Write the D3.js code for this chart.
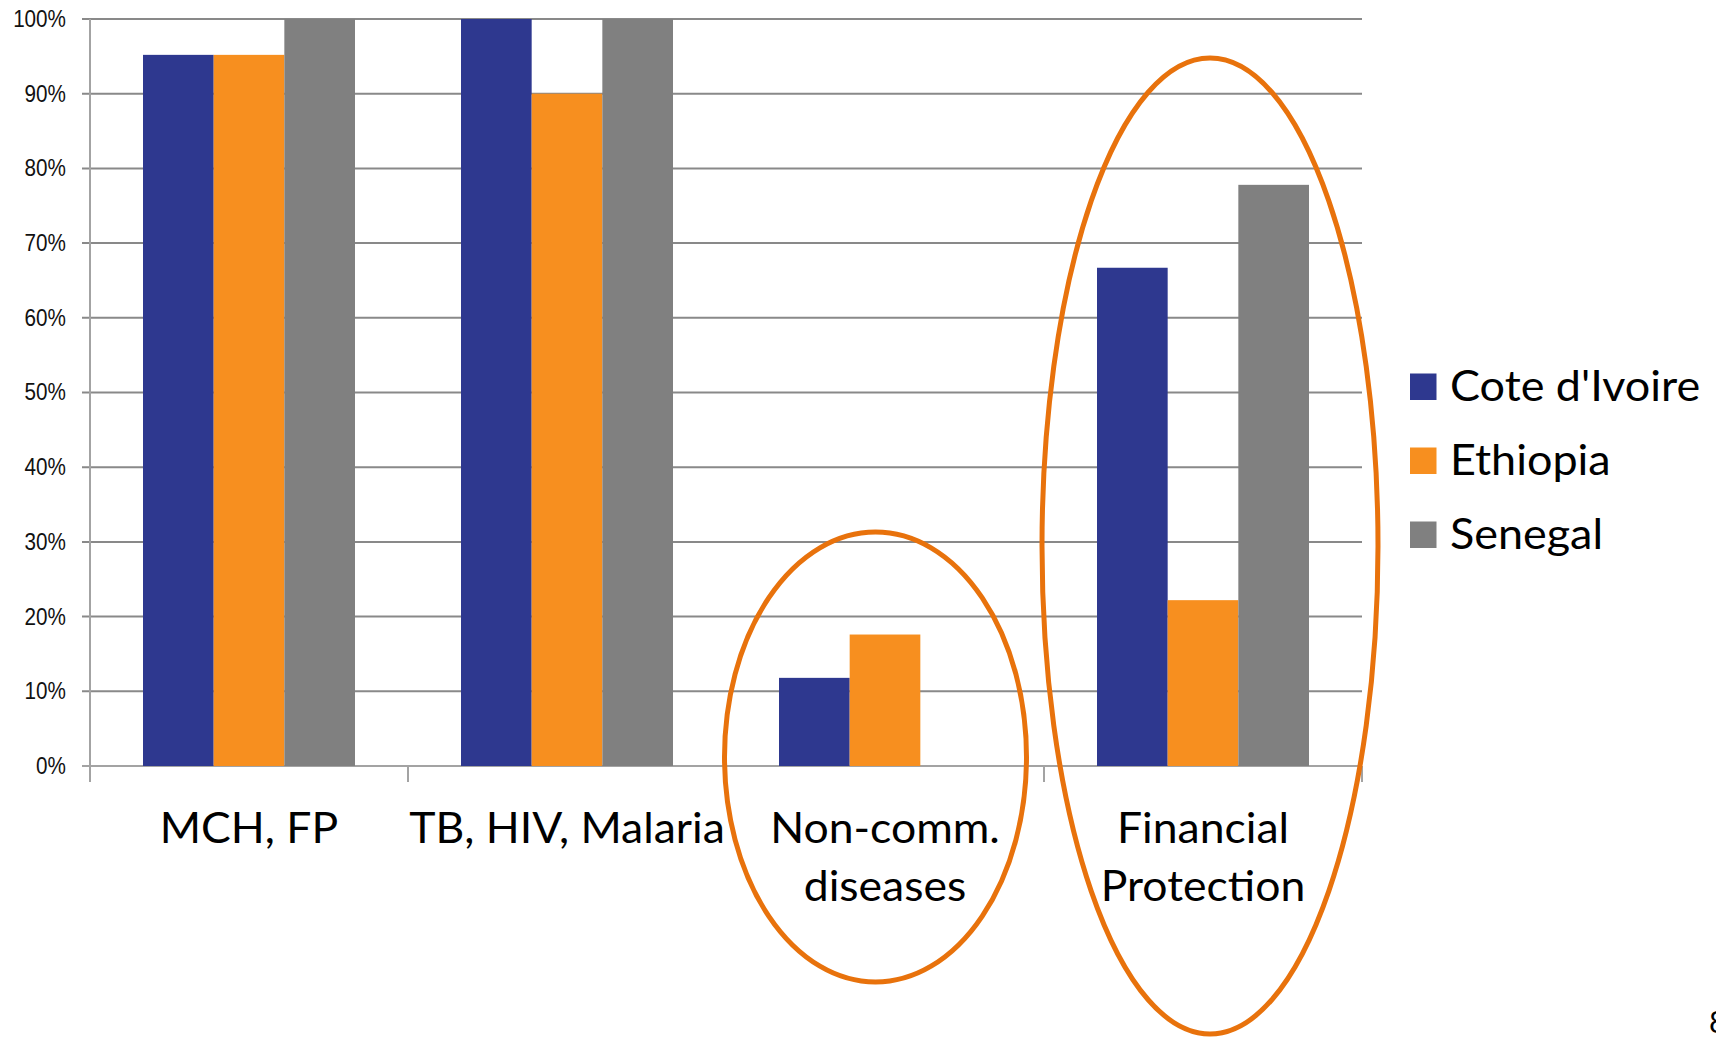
<!DOCTYPE html>
<html>
<head>
<meta charset="utf-8">
<script src="https://cdn.jsdelivr.net/npm/d3@7"></script>
<style>
  html, body { margin: 0; padding: 0; background: #ffffff; }
  svg { display: block; }
</style>
</head>
<body>
<svg id="chart" width="1716" height="1037"></svg>
<script>
// Share of indicators covered, by country and health area (percent)
const categories = [["MCH, FP"], ["TB, HIV, Malaria"], ["Non-comm.", "diseases"], ["Financial", "Protection"]];
const categoryKeys = ["MCH, FP", "TB, HIV, Malaria", "Non-comm. diseases", "Financial Protection"];
const seriesNames = ["Cote d'Ivoire", "Ethiopia", "Senegal"];
const coteDIvoire = [95.2, 100, 11.8, 66.7];
const ethiopia = [95.2, 90, 17.6, 22.2];
const senegal = [100, 100, null, 77.8];
const yTicks = [0, 10, 20, 30, 40, 50, 60, 70, 80, 90, 100];
const highlighted = ["Non-comm. diseases", "Financial Protection"];
const pageNumber = "8";

const seriesValues = [coteDIvoire, ethiopia, senegal];
const colors = ["#2e388f", "#f78f1f", "#808080"];

const svg = d3.select("#chart");
const plotLeft = 90, plotRight = 1362, plotTop = 19, plotBottom = 766;
const labelFont = "Lato, 'Open Sans', sans-serif";

const x0 = d3.scaleBand().domain(categoryKeys).range([plotLeft, plotRight]).paddingInner(0).paddingOuter(0);
const bw = x0.bandwidth();
const x1 = d3.scaleBand().domain(seriesNames).range([bw / 6, bw * 5 / 6]).padding(0);
const y = d3.scaleLinear().domain([0, 100]).range([plotBottom, plotTop]);
const color = d3.scaleOrdinal().domain(seriesNames).range(colors);

// horizontal gridlines
svg.append("g")
  .selectAll("line")
  .data(yTicks)
  .join("line")
  .attr("x1", plotLeft - 8)
  .attr("x2", plotRight)
  .attr("y1", d => y(d))
  .attr("y2", d => y(d))
  .attr("stroke", d => d === 0 ? "#a3a3a3" : "#898989")
  .attr("stroke-width", 2);

// y tick labels
svg.append("g")
  .selectAll("g")
  .data(yTicks)
  .join("g")
  .attr("transform", d => `translate(66,${y(d)}) scale(0.88,1)`)
  .append("text")
  .attr("text-anchor", "end")
  .attr("dominant-baseline", "central")
  .attr("font-family", "Liberation Sans, Arial, sans-serif")
  .attr("font-size", 23.5)
  .attr("fill", "#111")
  .text(d => d + "%");

// bars
const rows = categoryKeys.map((c, i) => ({
  key: c,
  values: seriesNames.map((s, j) => ({ series: s, value: seriesValues[j][i] }))
}));

const groups = svg.append("g")
  .selectAll("g")
  .data(rows)
  .join("g")
  .attr("transform", d => `translate(${x0(d.key)},0)`);

groups.selectAll("rect")
  .data(d => d.values.filter(v => v.value != null))
  .join("rect")
  .attr("x", d => x1(d.series))
  .attr("width", x1.bandwidth())
  .attr("y", d => y(d.value))
  .attr("height", d => y(0) - y(d.value))
  .attr("fill", d => color(d.series));

// y axis line and category ticks
svg.append("line")
  .attr("x1", plotLeft).attr("x2", plotLeft)
  .attr("y1", plotTop).attr("y2", plotBottom + 16)
  .attr("stroke", "#a3a3a3").attr("stroke-width", 2);

svg.append("g")
  .selectAll("line")
  .data(categoryKeys.slice(1).map(c => x0(c)).concat([plotRight]))
  .join("line")
  .attr("x1", d => d).attr("x2", d => d)
  .attr("y1", plotBottom).attr("y2", plotBottom + 16)
  .attr("stroke", "#a3a3a3").attr("stroke-width", 2);

// category labels
const catLabels = svg.append("g")
  .selectAll("text")
  .data(categories)
  .join("text")
  .attr("font-family", labelFont)
  .attr("font-size", 42)
  .attr("fill", "#000")
  .attr("text-anchor", "middle")
  .attr("transform", (d, i) => `translate(${x0(categoryKeys[i]) + bw / 2},843) scale(1.06,1)`);

catLabels.selectAll("tspan")
  .data(d => d)
  .join("tspan")
  .attr("x", 0)
  .attr("y", (d, i) => i * 58.5)
  .text(d => d);

// legend
const legend = svg.append("g")
  .selectAll("g")
  .data(seriesNames)
  .join("g")
  .attr("transform", (d, i) => `translate(1410,${373.5 + i * 74})`);

legend.append("rect")
  .attr("width", 26.5)
  .attr("height", 26.5)
  .attr("fill", d => color(d));

legend.append("text")
  .attr("transform", "translate(40,27) scale(1.07,1)")
  .attr("font-family", labelFont)
  .attr("font-size", 42)
  .attr("fill", "#000")
  .text(d => d);

// highlight ellipses around the weaker areas
const rings = [
  { key: highlighted[0], dx: -9.5, cy: 757, rx: 151, ry: 225 },
  { key: highlighted[1], dx: 7, cy: 546, rx: 168, ry: 488 }
];
svg.append("g")
  .selectAll("ellipse")
  .data(rings)
  .join("ellipse")
  .attr("cx", d => x0(d.key) + bw / 2 + d.dx)
  .attr("cy", d => d.cy)
  .attr("rx", d => d.rx)
  .attr("ry", d => d.ry)
  .attr("fill", "none")
  .attr("stroke", "#e8720c")
  .attr("stroke-width", 5);

// slide page number, partly past the right edge of the slide
svg.append("text")
  .attr("x", 1709)
  .attr("y", 1033)
  .attr("font-family", labelFont)
  .attr("font-size", 30)
  .attr("fill", "#000")
  .text(pageNumber);
</script>
</body>
</html>
